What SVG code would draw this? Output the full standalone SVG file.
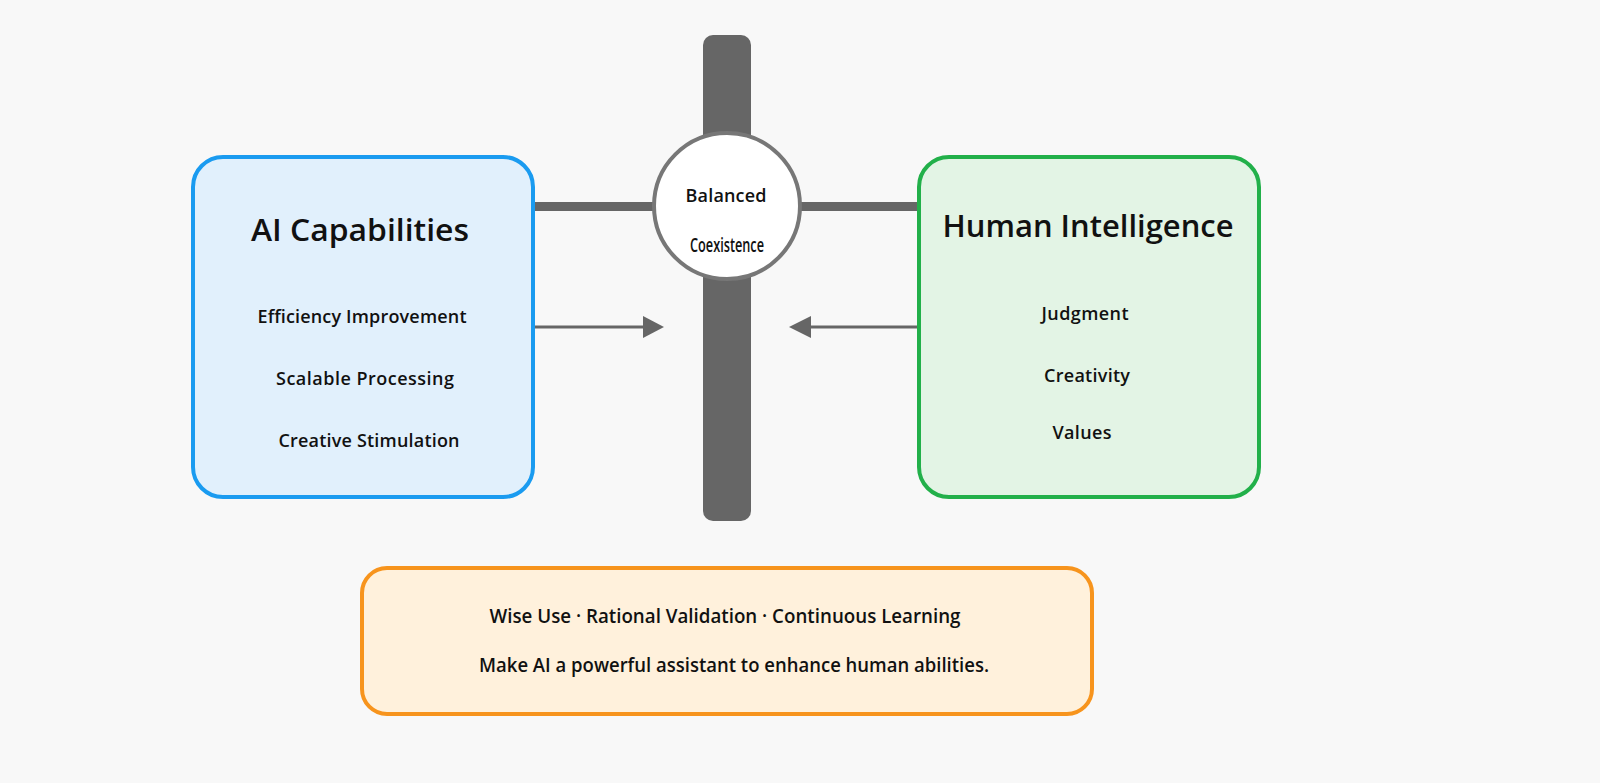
<svg xmlns="http://www.w3.org/2000/svg" width="1600" height="783" viewBox="0 0 1600 783">
  <defs>
    <style>
      .t { font-family: "Open Sans", "Noto Sans", "Liberation Sans", sans-serif; font-weight: 600; fill: #111; text-anchor: middle; }
      .h { font-size: 31px; }
      .i { font-size: 18px; }
      .s { font-size: 19px; }
      .b { font-size: 19px; }
      .bar { fill: #666666; }
      .conn { stroke: #666666; stroke-width: 3; fill: none; }
      .head { fill: #666666; }
    </style>
  </defs>
  <rect x="0" y="0" width="1600" height="783" fill="#f8f8f8"/>

  <g id="pillar">
    <rect class="bar" x="703" y="35" width="48" height="486" rx="10"/>
  </g>

  <g id="connectors">
    <rect class="bar" x="530" y="202" width="126" height="9"/>
    <rect class="bar" x="797" y="202" width="125" height="9"/>
    <line class="conn" x1="535" y1="327" x2="645" y2="327"/>
    <polygon class="head" points="643,316 664,327 643,338"/>
    <line class="conn" x1="917" y1="327" x2="809" y2="327"/>
    <polygon class="head" points="811,316 789,327 811,338"/>
  </g>

  <g id="ai-capabilities">
    <rect x="193" y="157" width="340" height="340" rx="30" fill="#e1f0fc" stroke="#1a9bf0" stroke-width="4"/>
    <text class="t h" x="360" y="241" textLength="218" lengthAdjust="spacingAndGlyphs">AI Capabilities</text>
    <text class="t i" x="362" y="323" textLength="209">Efficiency Improvement</text>
    <text class="t i" x="365" y="385" textLength="178">Scalable Processing</text>
    <text class="t i" x="369" y="447" textLength="181">Creative Stimulation</text>
  </g>

  <g id="human-intelligence">
    <rect x="919" y="157" width="340" height="340" rx="30" fill="#e3f4e5" stroke="#22b04a" stroke-width="4"/>
    <text class="t h" x="1088" y="237" textLength="291" lengthAdjust="spacingAndGlyphs">Human Intelligence</text>
    <text class="t i" x="1085" y="320" textLength="87">Judgment</text>
    <text class="t i" x="1087" y="382" textLength="86">Creativity</text>
    <text class="t i" x="1082" y="439" textLength="59">Values</text>
  </g>

  <g id="balanced-coexistence">
    <circle cx="727" cy="206" r="73" fill="#ffffff" stroke="#777777" stroke-width="4"/>
    <text class="t i" x="726" y="202" textLength="81">Balanced</text>
    <text class="t s" x="727" y="252" textLength="74" lengthAdjust="spacingAndGlyphs">Coexistence</text>
  </g>

  <g id="principles">
    <rect x="362" y="568" width="730" height="146" rx="25" fill="#fff1dc" stroke="#f7941d" stroke-width="4"/>
    <text class="t b" x="725" y="623" textLength="471" lengthAdjust="spacingAndGlyphs">Wise Use · Rational Validation · Continuous Learning</text>
    <text class="t b" x="734" y="672" textLength="510" lengthAdjust="spacingAndGlyphs">Make AI a powerful assistant to enhance human abilities.</text>
  </g>
</svg>
